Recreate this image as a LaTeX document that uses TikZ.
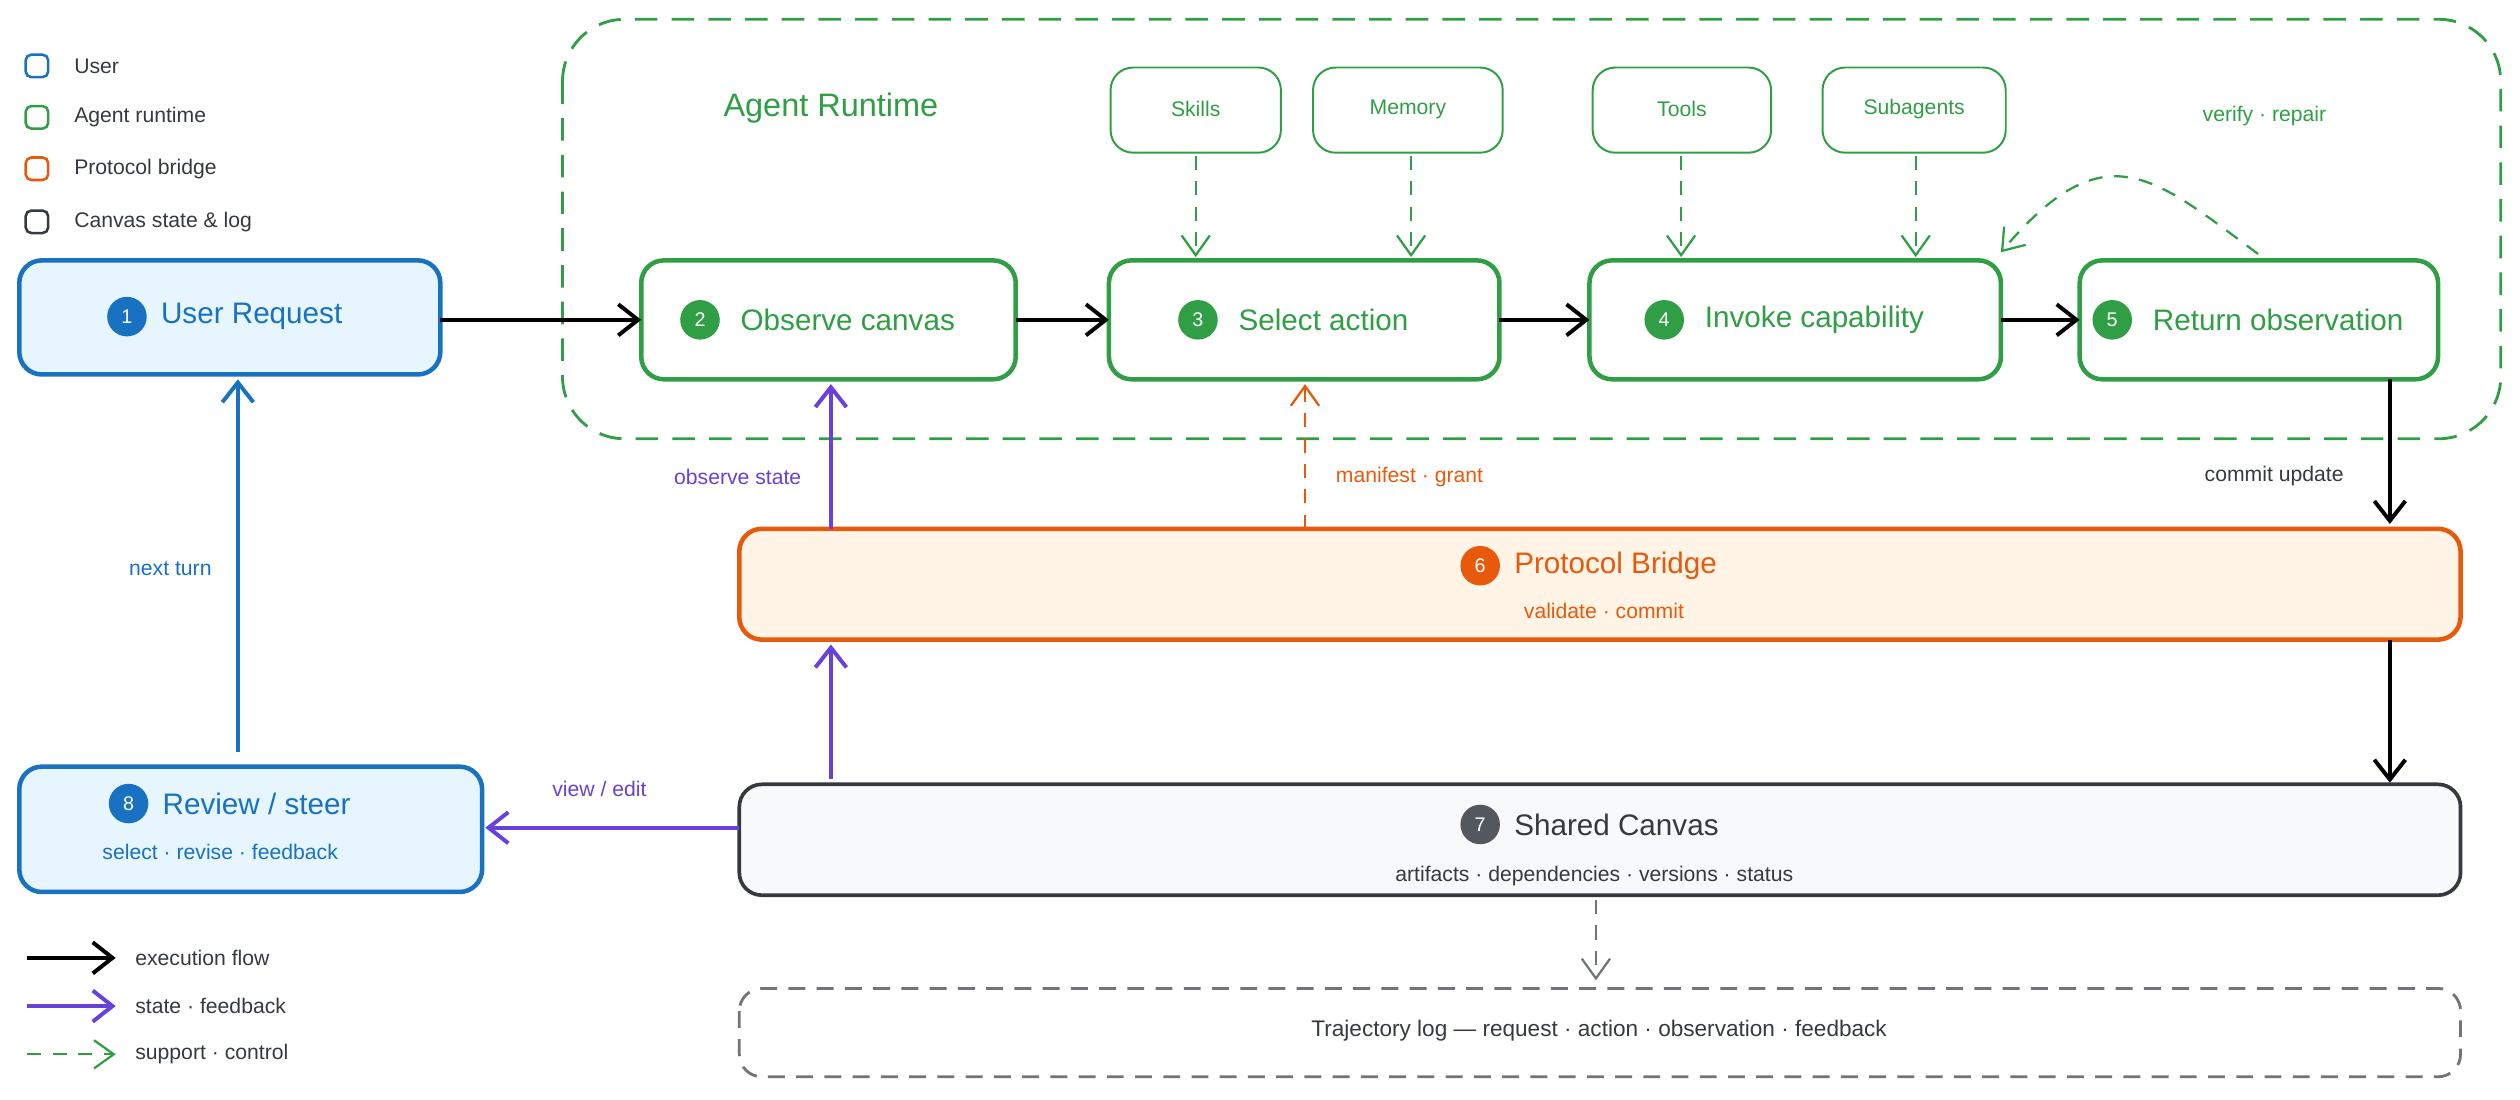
\documentclass[tikz,border=0pt]{standalone}
\usepackage{fontspec}
\setmainfont{Liberation Sans}
\usetikzlibrary{arrows.meta}
\definecolor{cgreen}{HTML}{2F9E44}
\definecolor{cblue}{HTML}{1971C2}
\definecolor{corange}{HTML}{E8590C}
\definecolor{cpurple}{HTML}{6741D9}
\definecolor{cdark}{HTML}{343A40}
\definecolor{fblue}{HTML}{E7F5FF}
\definecolor{forange}{HTML}{FFF4E6}
\definecolor{fgrey}{HTML}{F8F9FA}
\tikzstyle{stepbox} = [draw=cgreen, line width=1.6pt, rounded corners=8pt, fill=white]
\tikzstyle{supbox} = [draw=cgreen, line width=0.7pt, rounded corners=8pt]
\tikzstyle{num} = [circle, inner sep=0pt, minimum size=14pt, text=white, font=\fontsize{7}{8}\selectfont]
\tikzstyle{big} = [font=\fontsize{10.5}{12}\selectfont]
\tikzstyle{small} = [font=\fontsize{7.5}{9}\selectfont]
\tikzstyle{arrow} = [line width=1.4pt, -{Straight Barb[length=7pt,width=11pt]}]
\tikzstyle{dasharrow} = [line width=0.8pt, dash pattern=on 5pt off 4pt, -{Straight Barb[length=7pt,width=10pt]}]
\begin{document}
\begin{tikzpicture}[x=0.02cm, y=-0.02cm]
\useasboundingbox (0,0) rectangle (1568,684);
% legend
\foreach \yy/\cc/\lbl in {41/cblue/User, 73/cgreen/Agent runtime, 105/corange/Protocol bridge, 138/cdark/Canvas state \& log}{
  \draw[\cc, line width=0.9pt, rounded corners=2pt] (16,\yy-7) rectangle (30,\yy+7);
  \node[small, anchor=west, text=cdark] at (40,\yy) {\lbl};}
\coordinate (la1) at (17,596); \coordinate (lb1) at (72,596);
\coordinate (la2) at (17,626); \coordinate (lb2) at (72,626);
\coordinate (la3) at (17,656); \coordinate (lb3) at (72,656);
\draw[arrow, black] (la1) -- (lb1);
\draw[arrow, cpurple] (la2) -- (lb2);
\draw[dasharrow, cgreen] (la3) -- (lb3);
\node[small, anchor=west, text=cdark] at (78,596) {execution flow};
\node[small, anchor=west, text=cdark] at (78,626) {state · feedback};
\node[small, anchor=west, text=cdark] at (78,656) {support · control};
% runtime frame
\draw[cgreen, line width=1pt, dash pattern=on 8pt off 5pt, rounded corners=22pt] (350,12) rectangle (1556,273);
\node[text=cgreen, font=\fontsize{11.5}{13}\selectfont] at (517,67) {Agent Runtime};
% main boxes
\draw[draw=cblue, fill=fblue, line width=1.6pt, rounded corners=8pt] (12,162) rectangle (274,233);
\node[num, fill=cblue] at (79,197) {1};
\node[big, text=cblue, anchor=west] (user) at (94,197) {User Request};
\foreach \nm/\xa/\xb/\n/\lbl in {obs/399/632/2/Observe canvas, sel/690/933/3/Select action, inv/989/1245/4/Invoke capability, ret/1294/1517/5/Return observation}{
  \draw[stepbox] (\xa,162) rectangle (\xb,236);
  \node[big, inner sep=0pt] (\nm) at ({(\xa+\xb)/2+12},199) {\phantom{\lbl}};
  \node[num, fill=cgreen, anchor=east] at ([xshift=-7pt]\nm.west) {\n};
  \node[big, text=cgreen] at (\nm) {\lbl};}
\foreach \nm/\xa/\xb/\lbl in {skills/691/797/Skills, memory/817/935/Memory, tools/991/1102/Tools, subag/1134/1248/Subagents}{
  \draw[supbox] (\xa,42) rectangle (\xb,95);
  \node[small, text=cgreen] (\nm) at ({(\xa+\xb)/2},68) {\lbl};}
\foreach \xx in {744,878,1046,1192}{
  \draw[dasharrow, cgreen] (\xx,97) -- (\xx,160);}
\node[small, text=cgreen] at (1409,72) {verify · repair};
\draw[dasharrow, cgreen] (1405,158) .. controls (1340,110) and (1310,80) .. (1245,157);
% execution arrows
\draw[arrow] (274,199) -- (399,199);
\draw[arrow] (632,199) -- (690,199);
\draw[arrow] (933,199) -- (989,199);
\draw[arrow] (1245,199) -- (1294,199);
\draw[arrow] (1487,236) -- (1487,326);
\node[small, text=cdark] at (1415,296) {commit update};
% protocol bridge
\draw[draw=corange, fill=forange, line width=1.6pt, rounded corners=8pt] (460,329) rectangle (1531,398);
\node[num, fill=corange] at (921,352) {6};
\node[big, text=corange, anchor=west] at (936,352) {Protocol Bridge};
\node[small, text=corange] (bridge) at (998,380) {validate · commit};
\draw[dasharrow, corange] (812,329) -- (812,239);
\node[small, text=corange] at (877,297) {manifest · grant};
\draw[arrow, cpurple] (517,329) -- (517,239);
\node[small, text=cpurple] at (459,297) {observe state};
\draw[arrow] (1487,398) -- (1487,487);
% shared canvas
\draw[draw=cdark, fill=fgrey, line width=1.3pt, rounded corners=8pt] (460,488) rectangle (1531,557);
\node[num, fill=cdark!85] at (921,513) {7};
\node[big, text=cdark, anchor=west] at (936,513) {Shared Canvas};
\node[small, text=cdark] (canvas) at (992,545) {artifacts · dependencies · versions · status};
\draw[arrow, cpurple] (517,485) -- (517,401);
\draw[arrow, cpurple] (460,515) -- (302,515);
\node[small, text=cpurple] at (373,491) {view / edit};
% review
\draw[draw=cblue, fill=fblue, line width=1.6pt, rounded corners=8pt] (12,477) rectangle (300,555);
\node[num, fill=cblue] at (80,500) {8};
\node[big, text=cblue, anchor=west] at (95,500) {Review / steer};
\node[small, text=cblue] (review) at (137,530) {select · revise · feedback};
\draw[arrow, cblue] (148,468) -- (148,236);
\node[small, text=cblue] at (106,354) {next turn};
% trajectory log
\draw[dasharrow, cdark!70] (993,560) -- (993,610);
\draw[cdark!70, line width=1pt, dash pattern=on 6pt off 4pt, rounded corners=8pt] (460,615) rectangle (1531,670);
\node[text=cdark, font=\fontsize{8}{9}\selectfont] (traj) at (995,641) {Trajectory log — request · action · observation · feedback};
\end{tikzpicture}
\end{document}
